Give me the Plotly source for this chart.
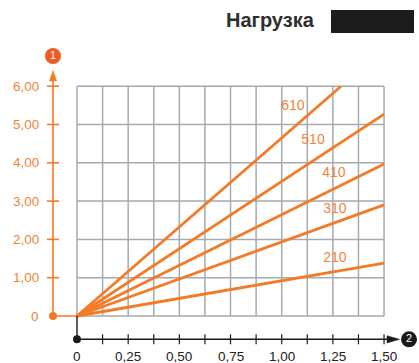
import plotly.graph_objects as go

# --- data ---------------------------------------------------------------
load_labels = ["210", "310", "410", "510", "610"]
line_x_end = [1.50, 1.50, 1.50, 1.50, 1.29]
line_y_end = [1.38, 2.90, 3.97, 5.27, 6.00]
label_x = [1.26, 1.26, 1.255, 1.153, 1.055]
label_y = [1.51, 2.77, 3.73, 4.57, 5.46]

x_major = [0, 0.25, 0.50, 0.75, 1.00, 1.25, 1.50]
x_major_text = ["0", "0,25", "0,50", "0,75", "1,00", "1,25", "1,50"]
x_grid = [0.125 * i for i in range(13)]
y_major = [0, 1, 2, 3, 4, 5, 6]
y_major_text = ["0", "1,00", "2,00", "3,00", "4,00", "5,00", "6,00"]

# --- styling ------------------------------------------------------------
W, H = 419, 363
PX_X0, PX_PER_X = 77.0, 204.7     # pixel of x=0, pixels per unit x
PX_Y0, PX_PER_Y = 316.0, 38.3     # pixel of y=0, pixels per unit y
ORANGE = "#F47A25"
LABEL_ORANGE = "#F3833A"
GRID = "#A5AAB0"
INK = "#1a1a1a"
FONT = "Liberation Sans, Arial, sans-serif"


def dx(px):
    return px / PX_PER_X


def dy(px):
    return px / PX_PER_Y


def px_x(p):
    return (p - PX_X0) / PX_PER_X


def px_y(p):
    return (PX_Y0 - p) / PX_PER_Y


xr = [px_x(0), px_x(W)]
yr = [px_y(H), px_y(0)]

fig = go.Figure()

# grid
gx, gy = [], []
for v in x_grid:
    gx += [v, v, None]
    gy += [0, 6, None]
for v in y_major:
    gx += [0, 1.5, None]
    gy += [v, v, None]
fig.add_trace(go.Scatter(x=gx, y=gy, mode="lines",
                         line=dict(color=GRID, width=1.5), hoverinfo="skip"))

# load lines
for xe, ye in zip(line_x_end, line_y_end):
    fig.add_trace(go.Scatter(x=[0, xe], y=[0, ye], mode="lines",
                             line=dict(color=ORANGE, width=2.8), hoverinfo="skip"))

# load labels
fig.add_trace(go.Scatter(x=label_x, y=label_y, mode="text", text=load_labels,
                         textfont=dict(family=FONT, size=14, color=LABEL_ORANGE),
                         hoverinfo="skip"))

# vertical (orange) axis, offset left of the grid
ax_x = px_x(53)
fig.add_trace(go.Scatter(x=[0, ax_x, ax_x], y=[0, 0, px_y(80)], mode="lines",
                         line=dict(color=ORANGE, width=1.6), hoverinfo="skip"))
tx, ty = [], []
for v in y_major[1:]:
    tx += [ax_x - dx(6), ax_x + dx(6), None]
    ty += [v, v, None]
fig.add_trace(go.Scatter(x=tx, y=ty, mode="lines",
                         line=dict(color=ORANGE, width=1.6), hoverinfo="skip"))
fig.add_trace(go.Scatter(x=[ax_x], y=[0], mode="markers",
                         marker=dict(color=ORANGE, size=8), hoverinfo="skip"))
# arrow head
fig.add_trace(go.Scatter(x=[ax_x - dx(3.6), ax_x, ax_x + dx(3.6), ax_x - dx(3.6)],
                         y=[px_y(81), px_y(70.5), px_y(81), px_y(81)],
                         mode="lines", fill="toself", fillcolor=ORANGE,
                         line=dict(color=ORANGE, width=0.5), hoverinfo="skip"))
fig.add_trace(go.Scatter(x=[ax_x], y=[px_y(56)], mode="markers+text",
                         marker=dict(color="#F05A28", size=16),
                         text=["1"], textposition="middle center",
                         textfont=dict(family=FONT, size=11, color="white"),
                         hoverinfo="skip"))
for v, t in zip(y_major, y_major_text):
    fig.add_annotation(x=px_x(41), y=v, text=t, showarrow=False,
                       xanchor="right", yanchor="middle",
                       font=dict(family=FONT, size=13.5, color=LABEL_ORANGE))

# horizontal (black) axis, offset below the grid
ax_y = px_y(339.3)
fig.add_trace(go.Scatter(x=[0, 0, px_x(388)], y=[0, ax_y, ax_y], mode="lines",
                         line=dict(color=INK, width=1.4), hoverinfo="skip"))
tx, ty = [], []
for v in x_grid[1:]:
    tx += [v, v, None]
    ty += [ax_y - dy(5), ax_y + dy(5), None]
fig.add_trace(go.Scatter(x=tx, y=ty, mode="lines",
                         line=dict(color=INK, width=1.2), hoverinfo="skip"))
fig.add_trace(go.Scatter(x=[0], y=[ax_y], mode="markers",
                         marker=dict(color=INK, size=8), hoverinfo="skip"))
fig.add_trace(go.Scatter(x=[px_x(387), px_x(399.5), px_x(387), px_x(387)],
                         y=[ax_y + dy(3.6), ax_y, ax_y - dy(3.6), ax_y + dy(3.6)],
                         mode="lines", fill="toself", fillcolor=INK,
                         line=dict(color=INK, width=0.5), hoverinfo="skip"))
fig.add_trace(go.Scatter(x=[px_x(409)], y=[ax_y], mode="markers+text",
                         marker=dict(color=INK, size=16),
                         text=["2"], textposition="middle center",
                         textfont=dict(family=FONT, size=11, color="white"),
                         hoverinfo="skip"))
for v, t in zip(x_major, x_major_text):
    fig.add_annotation(x=v, y=px_y(356.5), text=t, showarrow=False,
                       xanchor="center", yanchor="middle",
                       font=dict(family=FONT, size=13.5, color="#222222"))

# heading
fig.add_annotation(x=270 / W, y=1 - 20 / H, xref="paper", yref="paper",
                   text="<b>Нагрузка</b>", showarrow=False,
                   xanchor="center", yanchor="middle",
                   font=dict(family=FONT, size=20, color="#2e2e2e"))
fig.add_shape(type="rect", xref="paper", yref="paper",
              x0=331 / W, x1=414 / W, y0=1 - 33 / H, y1=1 - 10 / H,
              fillcolor="#1c1c1c", line=dict(width=0))

fig.update_layout(
    width=W, height=H, margin=dict(l=0, r=0, t=0, b=0),
    paper_bgcolor="white", plot_bgcolor="white", showlegend=False,
    xaxis=dict(range=xr, visible=False, fixedrange=True),
    yaxis=dict(range=yr, visible=False, fixedrange=True),
)

fig.write_html("out.html")
